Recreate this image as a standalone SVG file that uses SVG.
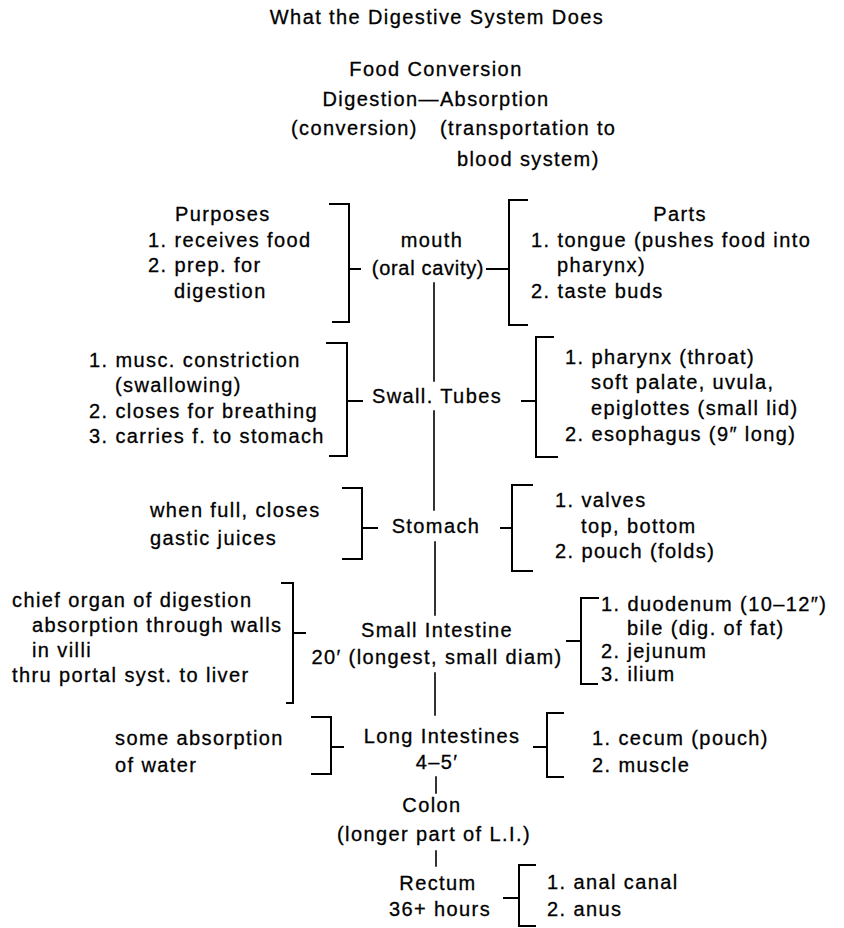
<svg xmlns="http://www.w3.org/2000/svg" width="844" height="928" viewBox="0 0 844 928">
<style>
text{font-family:"Liberation Sans",Arial,sans-serif;font-size:20px;letter-spacing:1.4px;fill:#000;stroke:#000;stroke-width:0.3}
.m{text-anchor:middle}
.c path{fill:none;stroke:#000;stroke-width:2;stroke-linecap:square}
.c .spine{stroke-width:1.6}
</style>
<rect width="844" height="928" fill="#fff"/>
<g id="header">
<text class="m" x="437" y="24">What the Digestive System Does</text>
<text class="m" x="436" y="76">Food Conversion</text>
<text class="m" x="436" y="106">Digestion—Absorption</text>
<text x="291" y="135">(conversion)</text>
<text x="440" y="135">(transportation to</text>
<text x="457" y="166">blood system)</text>
</g>
<g id="mouth-purposes">
<text x="175" y="221">Purposes</text>
<text x="148" y="247">1. receives food</text>
<text x="148" y="272">2. prep. for</text>
<text x="174" y="298">digestion</text>
</g>
<g id="mouth">
<text class="m" x="432" y="247">mouth</text>
<text class="m" x="428" y="275" style="letter-spacing:0.7px">(oral cavity)</text>
</g>
<g id="mouth-parts">
<text class="m" x="680" y="221">Parts</text>
<text x="531" y="247">1. tongue (pushes food into</text>
<text x="557" y="272">pharynx)</text>
<text x="531" y="298">2. taste buds</text>
</g>
<g id="swallow-purposes">
<text x="89" y="367">1. musc. constriction</text>
<text x="115" y="392">(swallowing)</text>
<text x="89" y="418">2. closes for breathing</text>
<text x="89" y="443">3. carries f. to stomach</text>
</g>
<g id="swallow">
<text class="m" x="437" y="403">Swall. Tubes</text>
</g>
<g id="swallow-parts">
<text x="565" y="364">1. pharynx (throat)</text>
<text x="591" y="389">soft palate, uvula,</text>
<text x="591" y="415">epiglottes (small lid)</text>
<text x="565" y="441">2. esophagus (9″ long)</text>
</g>
<g id="stomach-purposes">
<text x="150" y="517">when full, closes</text>
<text x="150" y="545">gastic juices</text>
</g>
<g id="stomach">
<text class="m" x="436" y="533">Stomach</text>
</g>
<g id="stomach-parts">
<text x="555" y="507">1. valves</text>
<text x="581" y="533">top, bottom</text>
<text x="555" y="558">2. pouch (folds)</text>
</g>
<g id="small-purposes">
<text x="12" y="607">chief organ of digestion</text>
<text x="32" y="632">absorption through walls</text>
<text x="32" y="657">in villi</text>
<text x="12" y="682">thru portal syst. to liver</text>
</g>
<g id="small-intestine">
<text class="m" x="437" y="637">Small Intestine</text>
<text class="m" x="437" y="664">20′ (longest, small diam)</text>
</g>
<g id="small-parts">
<text x="601" y="611">1. duodenum (10–12″)</text>
<text x="627" y="635">bile (dig. of fat)</text>
<text x="601" y="658">2. jejunum</text>
<text x="601" y="681">3. ilium</text>
</g>
<g id="long-purposes">
<text x="115" y="745">some absorption</text>
<text x="115" y="772">of water</text>
</g>
<g id="long-intestines">
<text class="m" x="442" y="743">Long Intestines</text>
<text class="m" x="437" y="769">4–5′</text>
</g>
<g id="long-parts">
<text x="592" y="745">1. cecum (pouch)</text>
<text x="592" y="772">2. muscle</text>
</g>
<g id="colon">
<text class="m" x="432" y="812">Colon</text>
<text class="m" x="434" y="841">(longer part of L.I.)</text>
</g>
<g id="rectum">
<text class="m" x="438" y="890">Rectum</text>
<text class="m" x="440" y="916">36+ hours</text>
</g>
<g id="rectum-parts">
<text x="547" y="889">1. anal canal</text>
<text x="547" y="916">2. anus</text>
</g>
<g id="connectors" class="c">
<path class="spine" d="M434,283V381M434,411V510M435,542V615M435,673V715M436,777V793M436,851V866"/>
<path d="M330,204H349V322H333M349,269H360"/>
<path d="M487,269H508M527,200H509V325H527"/>
<path d="M327,343H347V456H330M347,401H362"/>
<path d="M522,401H536M553,337H536V457H557"/>
<path d="M343,488H362V559H343M362,528H377"/>
<path d="M501,528H512M532,485H512V571H532"/>
<path d="M282,583H293V703H287M293,633H305"/>
<path d="M567,641H581M598,598H581V684H597"/>
<path d="M312,717H331V774H312M331,747H343"/>
<path d="M534,747H547M563,713H547V777H563"/>
<path d="M504,898H518M535,865H519V926H535"/>
</g>
</svg>
